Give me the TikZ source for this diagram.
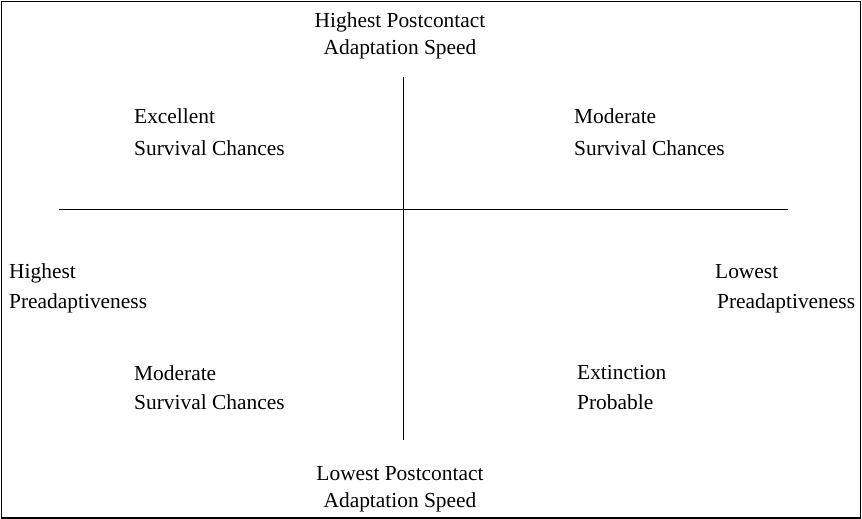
\documentclass[tikz,border=0pt]{standalone}
\usepackage{fontspec}
\setmainfont{Liberation Serif}
\begin{document}
\begin{tikzpicture}[x=1pt, y=-1pt,
  every node/.style={inner sep=0pt},
  lbl/.style={font=\fontsize{21.4}{30}\selectfont, align=left, anchor=base west}]
  \useasboundingbox (0,0) rectangle (862,519);
  % frame
  \draw[line width=1.2pt] (1.5,1.5) rectangle (860.5,518);

  % axes
  \coordinate (N) at (403,77);
  \coordinate (S) at (403,440);
  \coordinate (W) at (59,209);
  \coordinate (E) at (788,209);
  \draw[line width=1pt] (N) -- (S);
  \draw[line width=1pt] (W) -- (E);

  % axis ends (base = last line)
  \node[lbl, font=\fontsize{21.4}{27}\selectfont, align=center, anchor=base] (hps) at (400,55) {Highest Postcontact\\Adaptation Speed};
  \node[lbl, font=\fontsize{21.4}{27}\selectfont, align=center, anchor=base] (lps) at (400,507) {Lowest Postcontact\\Adaptation Speed};
  \node[lbl] (hpa) at (9,308) {Highest\\Preadaptiveness};
  \node[lbl] (lpa) at (715,308) {Lowest\\\hspace*{2pt}Preadaptiveness};

  % quadrants
  \node[lbl, font=\fontsize{21.4}{32}\selectfont] (exc) at (134,155) {Excellent\\Survival Chances};
  \node[lbl, font=\fontsize{21.4}{32}\selectfont] (modtop) at (574,155) {Moderate\\Survival Chances};
  \node[lbl, font=\fontsize{21.4}{29}\selectfont] (modbot) at (134,409) {Moderate\\Survival Chances};
  \node[lbl] (ext) at (577,409) {Extinction\\Probable};
\end{tikzpicture}
\end{document}
